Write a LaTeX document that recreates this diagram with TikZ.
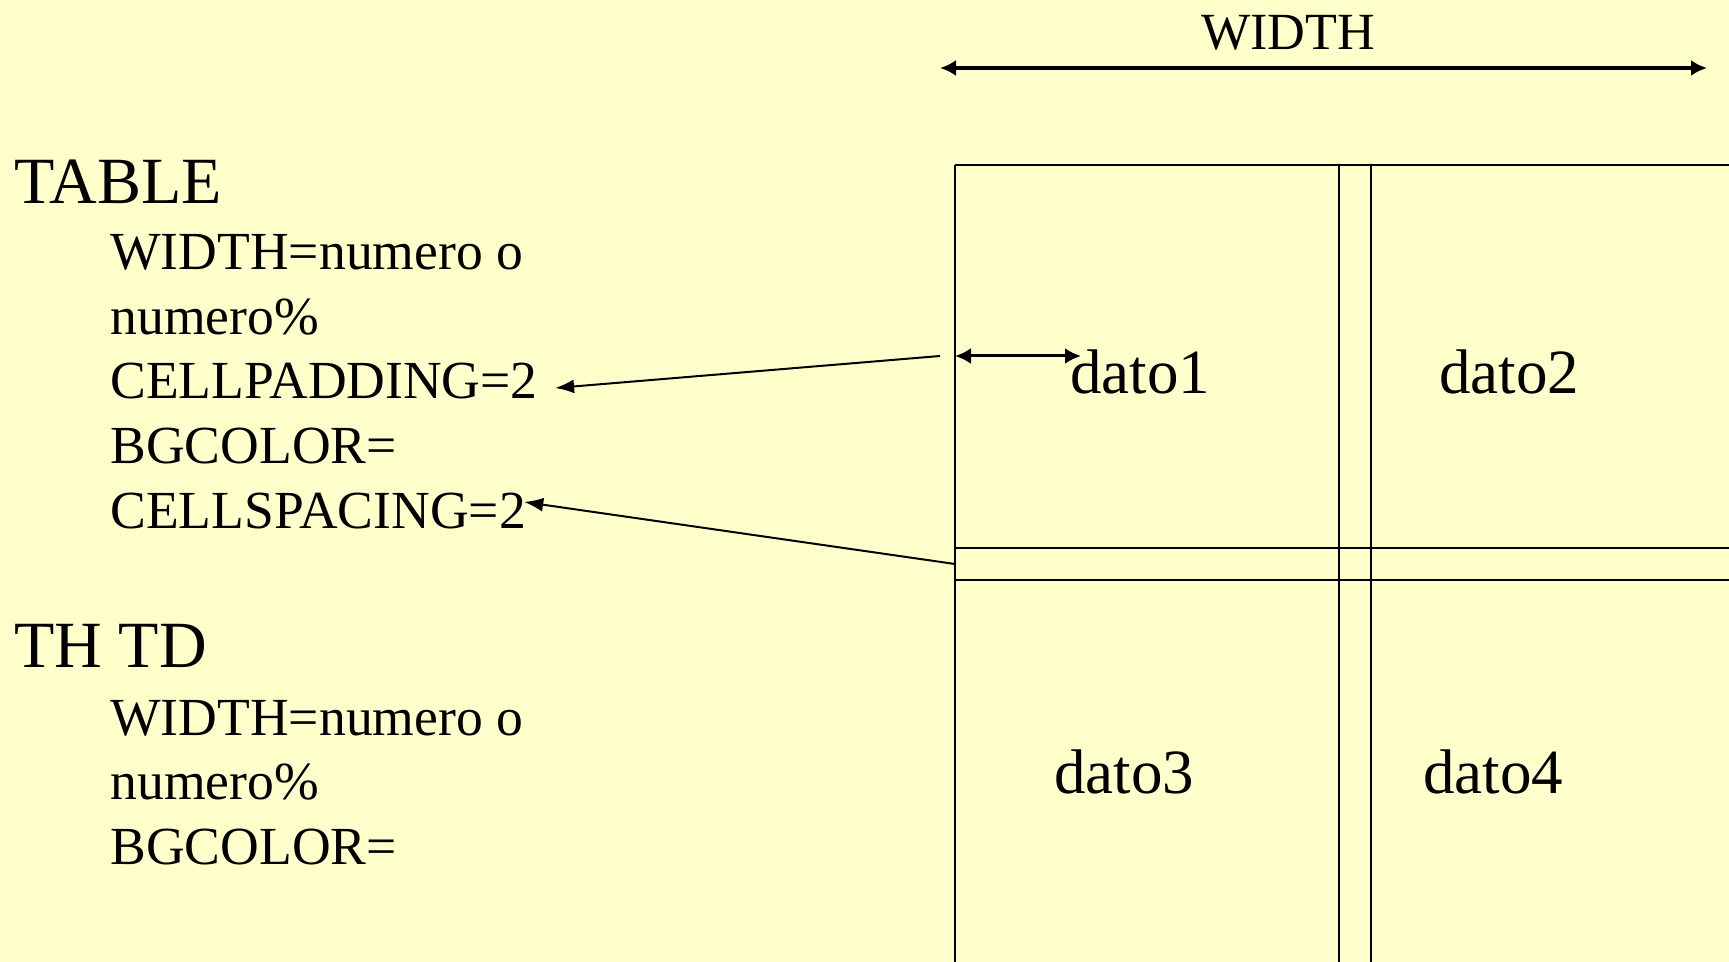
\documentclass[tikz,border=0pt]{standalone}
\usepackage{fontspec}
\setmainfont{Liberation Serif}
\usetikzlibrary{positioning, arrows.meta}
\definecolor{slideyellow}{HTML}{FFFFCC}
\tikzstyle{head} = [font=\fontsize{33}{40}\selectfont, inner sep=0pt, anchor=base west]
\tikzstyle{item} = [font=\fontsize{26.8}{32}\selectfont, inner sep=0pt, anchor=base west]
\tikzstyle{title} = [font=\fontsize{26.1}{31}\selectfont, inner sep=0pt, anchor=base]
\tikzstyle{cell} = [font=\fontsize{31.5}{38}\selectfont, inner sep=0pt]
\tikzstyle{grid} = [draw, line width=1pt]
\tikzstyle{arrow} = [draw, line width=1pt, -{Latex[length=9.5pt, width=7pt]}]
\tikzstyle{span} = [draw, line width=1.7pt, {Latex[length=8pt, width=8pt]}-{Latex[length=8pt, width=8pt]}]

\begin{document}
\begin{tikzpicture}[x=0.5pt, y=-0.5pt, node distance=32.25pt]
        % Background
        \fill [slideyellow] (0,0) rectangle (1729,962);
        \useasboundingbox (0,0) rectangle (1729,962);
        \clip (0,0) rectangle (1729,962);
        % Table grid
        \foreach \x in {955,1339,1371}
            \path [grid] (\x,165) -- (\x,1000);
        \foreach \y in {165,548,580}
            \path [grid] (955,\y) -- (1760,\y);
        % Place nodes
        \node [head] (T) at (14,204) {TABLE};
        \node [item] (T1) at (110,270) {WIDTH=numero o};
        \node [item, below=of T1.base west, anchor=base west] (T2) {numero\%};
        \node [item, below=of T2.base west, anchor=base west] (T3) {CELLPADDING=2};
        \node [item, below=of T3.base west, anchor=base west] (T4) {BGCOLOR=};
        \node [item, below=of T4.base west, anchor=base west] (T5) {CELLSPACING=2};
        \node [head] (H) at (14,667) {TH TD};
        \node [item] (H1) at (110,735) {WIDTH=numero o};
        \node [item, below=of H1.base west, anchor=base west] (H2) {numero\%};
        \node [item, below=of H2.base west, anchor=base west] (H3) {BGCOLOR=};
        \node [title] (W) at (1288,50) {WIDTH};
        \node [cell] (d1) at (1140,372) {dato1};
        \node [cell] (d2) at (1509,372) {dato2};
        \node [cell] (d3) at (1124,772) {dato3};
        \node [cell] (d4) at (1493,772) {dato4};
        \coordinate (wl) at (940,68);
        \coordinate (wr) at (1707,68);
        \coordinate (padL) at (955,356);
        \coordinate (padR) at (1081,356);
        \coordinate (padsrc) at (940,356);
        \coordinate (spcsrc) at (955,564);
        % Draw edges
        \path [span] (wl) -- (wr);
        \path [span, line width=1.5pt] (padL) -- (padR);
        \path [arrow] (padsrc) -- ([xshift=8.5pt, yshift=5.5pt]T3.base east);
        \path [arrow] (spcsrc) -- ([xshift=-1pt, yshift=13pt]T5.base east);
\end{tikzpicture}
\end{document}
